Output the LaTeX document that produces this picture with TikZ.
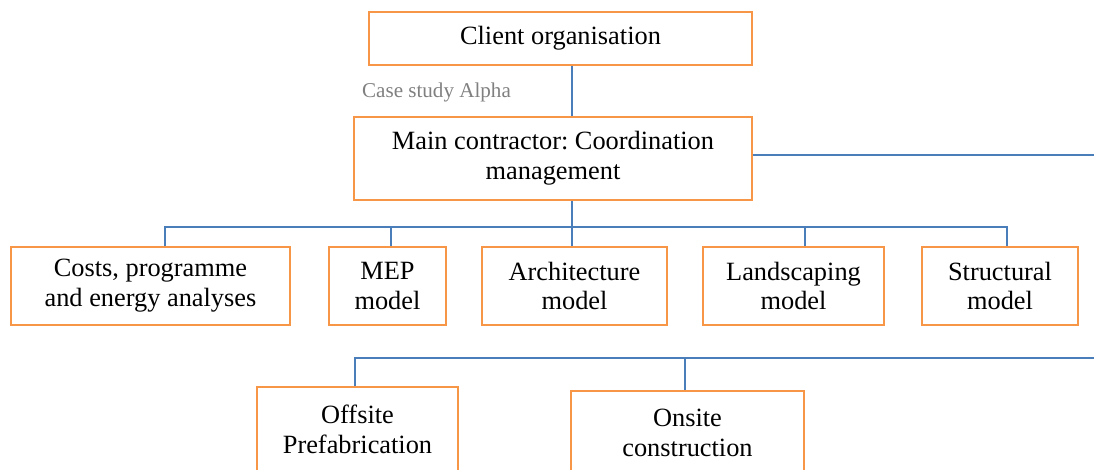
\documentclass[tikz,border=0pt]{standalone}
\usepackage{fontspec}
\setmainfont{Liberation Serif}
\usetikzlibrary{positioning}
\definecolor{boxorange}{HTML}{F79646}
\definecolor{linkblue}{HTML}{4A7EBB}
\frenchspacing

\begin{document}
\begin{tikzpicture}[unit/.style = {draw = boxorange, line width = 1.1pt, align = center, inner sep = 2pt, minimum height = 1.56cm, font = \fontsize{15}{17}\selectfont},
		link/.style = {draw = linkblue, line width = 1.1pt}]
		\clip (0,0) rectangle (21.88,9.38);
		\node (client) at (11.21,8.61) [unit, minimum width = 7.66cm, minimum height = 1.06cm] {Client organisation};
		\node (main) at (11.06,6.21) [unit, minimum width = 7.96cm, minimum height = 1.66cm] {Main contractor: Coordination\\management};
		\node (costs) at (3.01,3.66) [unit, minimum width = 5.58cm] {Costs, programme\\and energy analyses};
		\node (mep) at (7.75,3.66) [unit, minimum width = 2.34cm] {MEP\\model};
		\node (arch) at (11.49,3.66) [unit, minimum width = 3.70cm] {Architecture\\model};
		\node (land) at (15.87,3.66) [unit, minimum width = 3.62cm] {Landscaping\\model};
		\node (struct) at (20.00,3.66) [unit, minimum width = 3.12cm] {Structural\\model};
		\node (offsite) at (7.15,0.79) [unit, minimum width = 4.02cm, minimum height = 1.70cm] {Offsite\\Prefabrication};
		\node (onsite) at (13.75,0.73) [unit, minimum width = 4.66cm, minimum height = 1.66cm] {Onsite\\construction};
		\node (alpha) at (8.73,7.54) [text = black!50, font = \fontsize{12}{14}\selectfont] {Case study Alpha};
		\coordinate (spine) at (11.44,4.84);
		\coordinate (fork) at (7.10,2.22);
		\coordinate (rim) at (21.88,2.22);
		% main line
		\draw [link] (client.south -| spine) -- (main.north -| spine);
		\draw [link] (main.south -| spine) -- (spine);
		\draw [link] ([yshift = 0.07cm]main.east) -- ([yshift = 0.07cm]main.east -| rim);
		% design branch
		\draw [link] (costs.north -| 3.30,0) -- (3.30,4.84) -- (20.14,4.84) -- (struct.north -| 20.14,0);
		\foreach \unitname/\x in {mep/7.82, arch/11.44, land/16.10}
			\draw [link] (\x,4.84) -- (\unitname.north -| \x,0);
		% production branch
		\draw [link] (offsite.north -| fork) -- (fork) -- (rim);
		\draw [link] (13.70,2.22) -- (onsite.north -| 13.70,0);
	\end{tikzpicture}
\end{document}
